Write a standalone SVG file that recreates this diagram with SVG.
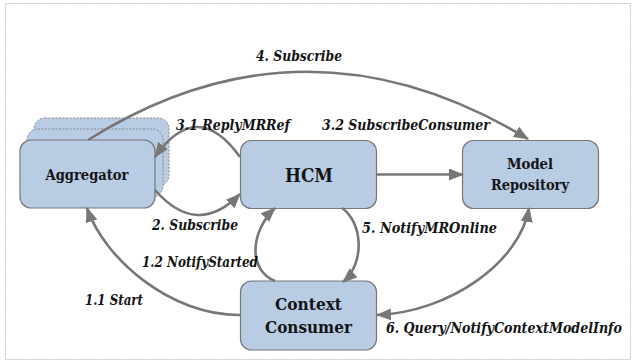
<svg xmlns="http://www.w3.org/2000/svg" width="633" height="362" viewBox="0 0 633 362">
<style>
.box{fill:#b8cce4;stroke:#777;stroke-width:1.2}
.ghost{fill:#b8cce4;stroke:#888;stroke-width:1;stroke-dasharray:2 1.5}
.nt{font-family:'DejaVu Serif',serif;font-weight:bold;fill:#141414;text-anchor:middle}
.lb{font-family:'DejaVu Serif',serif;font-weight:bold;font-style:italic;font-size:15px;fill:#141414}
.c{fill:none;stroke:#777;stroke-width:2.6}
</style>
<defs>
<marker id="ah" viewBox="0 0 15 12" refX="14" refY="6" markerWidth="15" markerHeight="12" markerUnits="userSpaceOnUse" orient="auto-start-reverse">
<path d="M0,0 L15,6 L0,12 z" fill="#777"/>
</marker>
</defs>
<rect x="5.5" y="3.5" width="625" height="356" fill="none" stroke="#c4c4c4" stroke-width="1" stroke-dasharray="2 1"/>

<g id="aggregator">
<rect class="ghost" x="34" y="118" width="135" height="68" rx="11"/>
<rect class="ghost" x="27" y="129" width="136" height="68" rx="11"/>
<rect class="box" x="20" y="140" width="135" height="68" rx="11"/>
<text class="nt" x="87" y="180" font-size="15" textLength="83" lengthAdjust="spacingAndGlyphs">Aggregator</text>
</g>
<g id="hcm">
<rect class="box" x="240.5" y="140.5" width="136" height="68" rx="11"/>
<text class="nt" x="309" y="182" font-size="18.5" textLength="48" lengthAdjust="spacingAndGlyphs">HCM</text>
</g>
<g id="model-repository">
<rect class="box" x="462.5" y="140.5" width="136" height="68" rx="11"/>
<text class="nt" x="530" y="169" font-size="15" textLength="46" lengthAdjust="spacingAndGlyphs">Model</text>
<text class="nt" x="530" y="190" font-size="15" textLength="78" lengthAdjust="spacingAndGlyphs">Repository</text>
</g>
<g id="context-consumer">
<rect class="box" x="240.5" y="281" width="136" height="69" rx="11"/>
<text class="nt" x="308.5" y="310" font-size="17" textLength="67" lengthAdjust="spacingAndGlyphs">Context</text>
<text class="nt" x="308.5" y="333" font-size="17" textLength="87" lengthAdjust="spacingAndGlyphs">Consumer</text>
</g>

<g id="connectors">
<path class="c" d="M88,140 Q305,4 528,139" marker-end="url(#ah)"/>
<path class="c" d="M240,157 Q197,97 155,157" marker-end="url(#ah)"/>
<path class="c" d="M155,190 Q197,238 240,194" marker-end="url(#ah)"/>
<path class="c" d="M377,174.5 L463,174.5" marker-end="url(#ah)"/>
<path class="c" d="M342,208 C362,222 366,262 343,282" marker-end="url(#ah)"/>
<path class="c" d="M275,281 C248,270 250,232 275,208" marker-end="url(#ah)"/>
<path class="c" d="M241,315 C170,316 104,258 87,208" marker-end="url(#ah)"/>
<path class="c" d="M377,315 C450,312 520,262 529,208" marker-start="url(#ah)" marker-end="url(#ah)"/>
</g>

<g id="labels">
<text class="lb" x="256" y="61" textLength="86" lengthAdjust="spacingAndGlyphs">4. Subscribe</text>
<text class="lb" x="176" y="130" textLength="114" lengthAdjust="spacingAndGlyphs">3.1 ReplyMRRef</text>
<text class="lb" x="322" y="130" textLength="168" lengthAdjust="spacingAndGlyphs">3.2 SubscribeConsumer</text>
<text class="lb" x="152" y="230" textLength="86" lengthAdjust="spacingAndGlyphs">2. Subscribe</text>
<text class="lb" x="362" y="233" textLength="135" lengthAdjust="spacingAndGlyphs">5. NotifyMROnline</text>
<text class="lb" x="142" y="267" textLength="116" lengthAdjust="spacingAndGlyphs">1.2 NotifyStarted</text>
<text class="lb" x="85" y="305" textLength="58" lengthAdjust="spacingAndGlyphs">1.1 Start</text>
<text class="lb" x="386" y="333" textLength="236" lengthAdjust="spacingAndGlyphs">6. Query/NotifyContextModelInfo</text>
</g>
</svg>
